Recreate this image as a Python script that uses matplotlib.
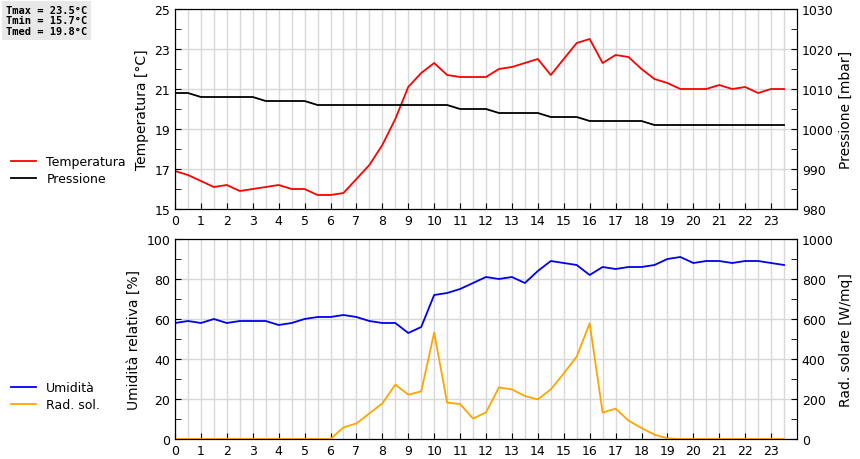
import matplotlib
matplotlib.use("Agg")
import matplotlib.pyplot as plt
import numpy as np

hours = [i * 0.5 for i in range(48)]
temperatura = [16.9, 16.7, 16.4, 16.1, 16.2, 15.9, 16.0, 16.1, 16.2, 16.0, 16.0, 15.7, 15.7, 15.8,
               16.5, 17.2, 18.2, 19.5, 21.1, 21.8, 22.3, 21.7, 21.6, 21.6, 21.6, 22.0, 22.1, 22.3,
               22.5, 21.7, 22.5, 23.3, 23.5, 22.3, 22.7, 22.6, 22.0, 21.5, 21.3, 21.0, 21.0, 21.0,
               21.2, 21.0, 21.1, 20.8, 21.0, 21.0]
pressione = [1009, 1009, 1008, 1008, 1008, 1008, 1008, 1007, 1007, 1007, 1007, 1006, 1006, 1006,
             1006, 1006, 1006, 1006, 1006, 1006, 1006, 1006, 1005, 1005, 1005, 1004, 1004, 1004,
             1004, 1003, 1003, 1003, 1002, 1002, 1002, 1002, 1002, 1001, 1001, 1001, 1001, 1001,
             1001, 1001, 1001, 1001, 1001, 1001]
umidita = [58, 59, 58, 60, 58, 59, 59, 59, 57, 58, 60, 61, 61, 62, 61, 59, 58, 58, 53, 56,
           72, 73, 75, 78, 81, 80, 81, 78, 84, 89, 88, 87, 82, 86, 85, 86, 86, 87, 90, 91,
           88, 89, 89, 88, 89, 89, 88, 87]
rad_sol = [0, 0, 0, 0, 0, 0, 0, 0, 0, 0, 0, 0, 0, 58, 78, 128, 178, 272, 222, 238,
           532, 182, 175, 102, 133, 258, 248, 215, 198, 248, 328, 412, 578, 132, 152, 92,
           55, 22, 3, 0, 0, 0, 0, 0, 0, 0, 0, 0]
info = ["Tmax = 23.5°C", "Tmin = 15.7°C", "Tmed = 19.8°C"]

plt.rcParams["font.family"] = "DejaVu Sans"
fig = plt.figure(figsize=(8.6, 4.6), dpi=100)
W, H = 860, 460

def setup(ax, ylim, yticks, ymin):
    ax.set_xlim(0, 24)
    ax.set_ylim(*ylim)
    ax.set_xticks(range(24))
    ax.set_xticks(np.arange(0.5, 24, 0.5), minor=True)
    ax.set_yticks(yticks)
    ax.set_yticks(ymin, minor=True)
    ax.grid(True, which="both", axis="x", color="#d8d8d8", lw=1)
    ax.grid(True, which="major", axis="y", color="#d8d8d8", lw=1)
    ax.tick_params(labelsize=9, direction="in", length=4)
    ax.tick_params(which="minor", direction="in", length=0, axis="x")
    ax.tick_params(which="minor", direction="in", length=4, axis="y")
    ax.set_axisbelow(True)

ax1 = fig.add_axes([175 / W, 1 - 210 / H, 622 / W, 200 / H])
setup(ax1, (15, 25), range(15, 26, 2), range(16, 25, 2))
l1, = ax1.plot(hours, temperatura, color="#ff0000", lw=1.3, label="Temperatura")
ax1.set_ylabel("Temperatura [°C]", fontsize=10)
ax1b = ax1.twinx()
ax1b.set_ylim(980, 1030)
ax1b.set_yticks(range(980, 1031, 10))
ax1b.set_yticks(range(985, 1030, 10), minor=True)
ax1b.tick_params(labelsize=9, direction="in", length=4, which="both")
l2, = ax1b.plot(hours, pressione, color="black", lw=1.3, label="Pressione")
ax1b.set_ylabel("Pressione [mbar]", fontsize=10)
fig.legend([l1, l2], ["Temperatura", "Pressione"], loc="upper left",
           bbox_to_anchor=(0, 1 - 145 / H), frameon=False, fontsize=9, handlelength=2,
           labelspacing=0.3)

ax2 = fig.add_axes([175 / W, 1 - 440 / H, 622 / W, 200 / H])
setup(ax2, (0, 100), range(0, 101, 20), range(10, 100, 20))
l3, = ax2.plot(hours, umidita, color="#0000ee", lw=1.3)
ax2.set_ylabel("Umidità relativa [%]", fontsize=10)
ax2b = ax2.twinx()
ax2b.set_ylim(0, 1000)
ax2b.set_yticks(range(0, 1001, 200))
ax2b.set_yticks(range(100, 1000, 200), minor=True)
ax2b.tick_params(labelsize=9, direction="in", length=4, which="both")
l4, = ax2b.plot(hours, rad_sol, color="#ffa500", lw=1.3)
ax2b.set_ylabel("Rad. solare [W/mq]", fontsize=10)
fig.legend([l3, l4], ["Umidità", "Rad. sol."], loc="upper left",
           bbox_to_anchor=(0, 1 - 371 / H), frameon=False, fontsize=9, handlelength=2,
           labelspacing=0.3)

fig.text(6 / W, 1 - 6 / H, "\n".join(info), family="DejaVu Sans Mono", fontsize=7.5,
         fontweight="bold", va="top", ha="left", linespacing=1.05,
         bbox=dict(facecolor="#e8e8e8", edgecolor="none", pad=3))

fig.savefig("out.png", dpi=100)
